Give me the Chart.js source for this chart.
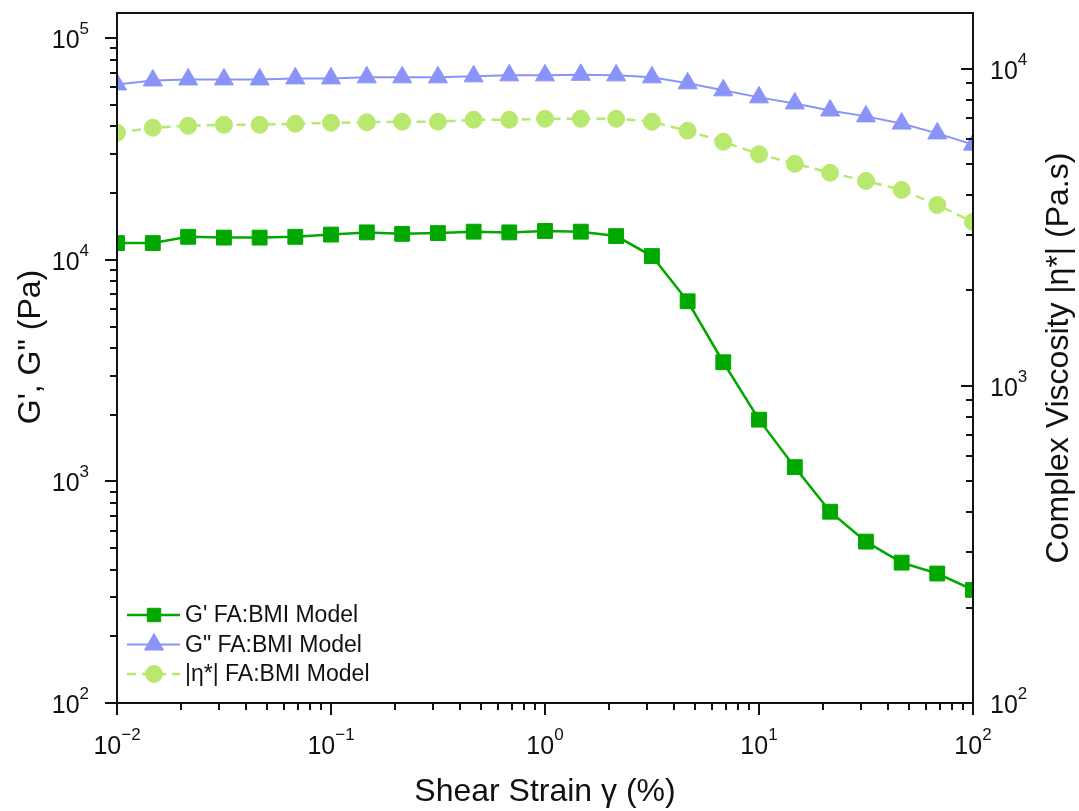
<!DOCTYPE html>
<html>
<head>
<meta charset="utf-8">
<script src="https://cdn.jsdelivr.net/npm/chart.js@4.4.1/dist/chart.umd.min.js"></script>
<style>
  html, body { margin: 0; padding: 0; background: #fff; }
  #wrap { width: 1079px; height: 811px; }
</style>
</head>
<body>
<div id="wrap"><canvas id="rheoChart" width="1079" height="811"></canvas></div>
<script>
// amplitude sweep, 6 points per decade
const strain = [0.01, 0.0147, 0.0215, 0.0316, 0.0464, 0.0681, 0.1, 0.147, 0.215, 0.316, 0.464, 0.681,
                1, 1.47, 2.15, 3.16, 4.64, 6.81, 10, 14.7, 21.5, 31.6, 46.4, 68.1, 100];
const gStorage = [11900, 11900, 12700, 12600, 12600, 12700, 13000, 13300, 13100, 13200, 13400, 13300,
                  13500, 13400, 12800, 10400, 6500, 3450, 1900, 1160, 730, 535, 430, 384, 324];
const gLoss = [61900, 64500, 65200, 65200, 65200, 65900, 65900, 66600, 66600, 66600, 67300, 68000,
               68000, 68400, 68000, 66600, 62600, 58200, 54100, 50800, 47200, 44400, 41200, 37200, 33100];
const etaComplex = [6290, 6520, 6610, 6660, 6660, 6710, 6760, 6780, 6810, 6810, 6910, 6910,
                    6960, 6960, 6960, 6810, 6380, 5890, 5380, 5020, 4700, 4430, 4150, 3720, 3290];

const seriesNames = ["G' FA:BMI Model", 'G" FA:BMI Model', '|η*| FA:BMI Model'];
const xTickExps = [-2, -1, 0, 1, 2];
const leftTickExps = [2, 3, 4, 5];
const rightTickExps = [2, 3, 4];

const FONT = "'Liberation Sans', Arial, sans-serif";
const INK = '#111';

function pts(vals) {
    return strain.map((x, i) => ({ x: x, y: vals[i] }));
}

// ticks: decade = long, 2..9 = short
function drawLogTicks(ctx, scale, exps, side) {
    const lo = Math.min(...exps) - 1, hi = Math.max(...exps);
    ctx.strokeStyle = INK;
    ctx.lineWidth = 2;
    for (let e = lo; e <= hi; e++) {
        for (let k = 1; k <= 9; k++) {
            const v = k * Math.pow(10, e);
            if (v < scale.min * 0.999 || v > scale.max * 1.001) continue;
            const p = Math.round(scale.getPixelForValue(v));
            const len = k === 1 ? 12 : 7;
            ctx.beginPath();
            if (side === 'bottom') { ctx.moveTo(p, scale.top); ctx.lineTo(p, scale.top + len); }
            else if (side === 'left') { ctx.moveTo(scale.right, p); ctx.lineTo(scale.right - len, p); }
            else { ctx.moveTo(scale.left, p); ctx.lineTo(scale.left - len, p); } // rechts: naar binnen
            ctx.stroke();
        }
    }
}

function powLabel(ctx, e, x, y, align) {
    const base = '10';
    const sup = e < 0 ? '\u2212' + Math.abs(e) : String(e);
    ctx.font = '25px ' + FONT;
    const wb = ctx.measureText(base).width;
    ctx.font = '17px ' + FONT;
    const ws = ctx.measureText(sup).width;
    let x0 = x;
    if (align === 'center') x0 = x - (wb + ws) / 2;
    else if (align === 'right') x0 = x - wb - ws;
    ctx.fillStyle = INK;
    ctx.textAlign = 'left';
    ctx.textBaseline = 'alphabetic';
    ctx.font = '25px ' + FONT;
    ctx.fillText(base, x0, y);
    ctx.font = '17px ' + FONT;
    ctx.fillText(sup, x0 + wb, y - 14);
}

function vertTitle(ctx, text, x, y) {
    ctx.save();
    ctx.translate(x, y);
    ctx.rotate(-Math.PI / 2);
    ctx.font = '32px ' + FONT;
    ctx.fillStyle = INK;
    ctx.textAlign = 'center';
    ctx.textBaseline = 'middle';
    ctx.fillText(text, 0, 0);
    ctx.restore();
}

const decorPlugin = {
    id: 'decor',
    afterDraw(chart) {
        const { ctx, chartArea: a, scales } = chart;
        ctx.save();

        // kader rond het plotgebied
        ctx.strokeStyle = INK;
        ctx.lineWidth = 2;
        ctx.strokeRect(a.left, a.top, a.right - a.left, a.bottom - a.top);

        drawLogTicks(ctx, scales.x, xTickExps, 'bottom');
        drawLogTicks(ctx, scales.y, leftTickExps, 'left');
        drawLogTicks(ctx, scales.y2, rightTickExps, 'right');

        xTickExps.forEach(e => powLabel(ctx, e, scales.x.getPixelForValue(Math.pow(10, e)), a.bottom + 51, 'center'));
        leftTickExps.forEach(e => powLabel(ctx, e, a.left - 28, scales.y.getPixelForValue(Math.pow(10, e)) + 10, 'right'));
        rightTickExps.forEach(e => powLabel(ctx, e, a.right + 17, scales.y2.getPixelForValue(Math.pow(10, e)) + 10, 'left'));

        // astitels links en rechts, beide van onder naar boven
        vertTitle(ctx, 'G\', G" (Pa)', 31, 347);
        vertTitle(ctx, 'Complex Viscosity |η*| (Pa.s)', 1059, (a.top + a.bottom) / 2);

        // legenda: lijn + marker per reeks
        const x0 = a.left + 10;
        chart.data.datasets.forEach((ds, i) => {
            const y = a.bottom - 88 + i * 29.5;
            ctx.save();
            ctx.strokeStyle = ds.borderColor;
            ctx.lineWidth = ds.borderWidth;
            ctx.setLineDash(ds.borderDash || []);
            ctx.beginPath();
            ctx.moveTo(x0, y);
            ctx.lineTo(x0 + 53, y);
            ctx.stroke();
            ctx.setLineDash([]);
            ctx.fillStyle = ds.backgroundColor;
            ctx.lineWidth = 1;
            Chart.helpers.drawPoint(ctx, { pointStyle: ds.pointStyle, radius: ds.legendRadius, borderWidth: 1, rotation: 0 }, x0 + 27, y);
            ctx.restore();
            ctx.font = '23px ' + FONT;
            ctx.fillStyle = INK;
            ctx.textAlign = 'left';
            ctx.textBaseline = 'middle';
            ctx.fillText(ds.label, x0 + 58, y + 1);
        });

        ctx.restore();
    }
};

const ctx = document.getElementById('rheoChart').getContext('2d');
new Chart(ctx, {
    type: 'line',
    data: {
        datasets: [
            {
                label: seriesNames[0],
                data: pts(gStorage),
                yAxisID: 'y',
                borderColor: '#00a800',
                backgroundColor: '#00a800',
                borderWidth: 2.5,
                pointStyle: 'rect',
                pointRadius: 10.5,
                legendRadius: 9.5,
                pointBorderWidth: 1,
                clip: 0
            },
            {
                label: seriesNames[1],
                data: pts(gLoss),
                yAxisID: 'y',
                borderColor: '#8a94f8',
                backgroundColor: '#8a94f8',
                borderWidth: 2,
                pointStyle: 'triangle',
                pointRadius: 11,
                legendRadius: 11,
                pointBorderWidth: 1,
                clip: 0
            },
            {
                label: seriesNames[2],
                data: pts(etaComplex),
                yAxisID: 'y2',
                borderColor: '#b8e86e',
                backgroundColor: '#b8e86e',
                borderWidth: 2.5,
                borderDash: [9, 6],
                pointStyle: 'circle',
                pointRadius: 8.5,
                legendRadius: 8.5,
                pointBorderWidth: 1,
                clip: 0
            }
        ]
    },
    options: {
        responsive: false,
        animation: false,
        layout: { padding: { top: 13, left: 0, right: 0, bottom: 0 } },
        plugins: { legend: { display: false }, tooltip: { enabled: false } },
        scales: {
            x: {
                type: 'logarithmic',
                min: 0.01,
                max: 100,
                grid: { display: false },
                border: { display: false },
                ticks: { display: false },
                title: { display: true, text: 'Shear Strain γ (%)', color: INK, font: { family: FONT, size: 32 }, padding: { top: 0, bottom: 0 } },
                afterFit: s => { s.height = 108; }
            },
            y: {
                type: 'logarithmic',
                position: 'left',
                min: 100,
                max: 130000,
                grid: { display: false },
                border: { display: false },
                ticks: { display: false },
                afterFit: s => { s.width = 117; }
            },
            y2: {
                type: 'logarithmic',
                position: 'right',
                min: 100,
                max: 15000,
                grid: { display: false },
                border: { display: false },
                ticks: { display: false },
                afterFit: s => { s.width = 106; }
            }
        }
    },
    plugins: [decorPlugin]
});
</script>
</body>
</html>
